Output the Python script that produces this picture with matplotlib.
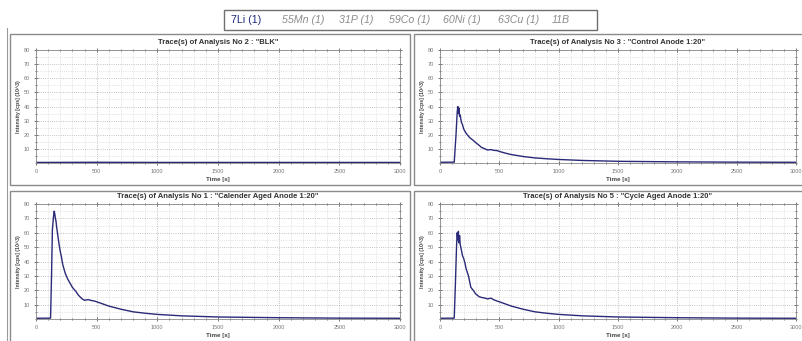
import matplotlib
matplotlib.use("Agg")
import matplotlib.pyplot as plt
from matplotlib.patches import Rectangle
from matplotlib.ticker import MultipleLocator

plt.rcParams['font.family'] = ['Liberation Sans', 'DejaVu Sans']

# time axis (s) and 7Li intensity (10^3 cps)
t_blk = [0, 500, 1000, 1500, 2000, 2500, 3000]
y_blk = [0.4, 0.5, 0.4, 0.4, 0.4, 0.4, 0.4]

t_ctrl = [0, 120, 135, 145, 150, 155, 160, 165, 170, 180, 190, 200, 220, 250, 280, 300, 330, 350,
          380, 400, 430, 450, 480, 500, 550, 600, 700, 800, 900, 1000, 1200, 1500, 2000, 2500, 3000]
y_ctrl = [0.5, 0.6, 20, 36, 40, 35, 39, 33, 34, 29, 27, 24, 21, 18, 16, 14.5, 12.5, 11,
          10, 9.2, 9.5, 9, 8.8, 8.2, 7, 6, 4.6, 3.6, 3, 2.5, 1.8, 1.2, 0.8, 0.6, 0.5]

t_cal = [0, 120, 128, 135, 145, 150, 155, 160, 165, 170, 180, 190, 200, 210, 220, 240, 260, 280,
         300, 330, 350, 380, 400, 430, 450, 480, 500, 550, 600, 700, 800, 900, 1000, 1200, 1500,
         2000, 2500, 3000]
y_cal = [0.5, 0.6, 30, 62, 72, 75, 73, 70, 68, 64, 58, 52, 47, 43, 38, 32, 28, 25,
         22, 19, 16.5, 14, 13, 13.5, 13, 12.5, 12, 10.5, 9, 6.8, 5, 4, 3.2, 2.2, 1.4,
         0.9, 0.6, 0.5]

t_cyc = [0, 120, 130, 140, 145, 150, 155, 160, 165, 170, 180, 190, 200, 210, 220, 240, 250, 260,
         280, 300, 330, 350, 380, 400, 430, 450, 480, 500, 550, 600, 700, 800, 900, 1000, 1200,
         1500, 2000, 2500, 3000]
y_cyc = [0.5, 0.6, 25, 52, 60, 55, 61, 53, 58, 52, 48, 44, 42, 39, 35, 30, 26, 22,
         20, 17.5, 15.5, 15, 14.5, 14, 14.5, 13.5, 12.5, 12, 10.5, 9, 6.8, 5, 4, 3.2, 2.2,
         1.4, 0.9, 0.6, 0.5]

titles = ['Trace(s) of Analysis No 2 : "BLK"',
          'Trace(s) of Analysis No 3 : "Control Anode 1:20"',
          'Trace(s) of Analysis No 1 : "Calender Aged Anode 1:20"',
          'Trace(s) of Analysis No 5 : "Cycle Aged Anode 1:20"']
series = [(t_blk, y_blk), (t_ctrl, y_ctrl), (t_cal, y_cal), (t_cyc, y_cyc)]

legend_items = ['7Li (1)', '55Mn (1)', '31P (1)', '59Co (1)', '60Ni (1)', '63Cu (1)', '11B']

W, H = 803, 341
fig = plt.figure(figsize=(W / 100, H / 100), dpi=100)


def fx(x):
    return x / W


def fy(y):
    return 1 - y / H


# panel frames
for (x0, y0, x1, y1) in [(10, 34, 410, 185), (414, 34, 806, 185), (10, 191, 410, 345), (414, 191, 806, 345)]:
    fig.patches.append(Rectangle((fx(x0), fy(y1)), fx(x1 - x0), (y1 - y0) / H,
                                 transform=fig.transFigure, fill=False, ec='#8a8a8a', lw=1.0))
fig.add_artist(plt.Line2D([fx(7), fx(7)], [fy(28), 0], transform=fig.transFigure, color='#9a9a9a', lw=0.8))

# channel selector box at the top
fig.patches.append(Rectangle((fx(224), fy(30)), fx(373), 20 / H, transform=fig.transFigure,
                             fill=False, ec='#707070', lw=1.0))
leg_x = [231, 282, 339, 389, 443, 498, 552]
for i, (lab, x) in enumerate(zip(legend_items, leg_x)):
    if i == 0:
        fig.text(fx(x), fy(20), lab, fontsize=7.7, color='#1c2a7a', va='center', ha='left')
    else:
        fig.text(fx(x), fy(20), lab, fontsize=7.7, color='#8c8c8c', style='italic', va='center', ha='left')

axes_pos = [(36, 50, 400, 163), (440, 50, 796, 163), (36, 204, 400, 319), (440, 204, 796, 319)]

for (x0, y0, x1, y1), title, (t, y) in zip(axes_pos, titles, series):
    ax = fig.add_axes([fx(x0), fy(y1), fx(x1 - x0), (y1 - y0) / H])
    ax.plot(t, y, color='#2a2a78', lw=1.0)
    ax.set_xlim(0, 3000)
    ax.set_ylim(0, 80)
    ax.xaxis.set_major_locator(MultipleLocator(500))
    ax.xaxis.set_minor_locator(MultipleLocator(100))
    ax.yaxis.set_minor_locator(MultipleLocator(5))
    ax.set_yticks([10, 20, 30, 40, 50, 60, 70, 80])
    ax.grid(which='major', color='#b0b0b0', ls=':', lw=0.6)
    ax.grid(which='minor', color='#cfcfcf', ls=':', lw=0.5)
    ax.tick_params(which='both', direction='inout', labelsize=4, colors='#444444',
                   labelcolor='#777777', top=True, right=True, length=2.5, width=0.5, pad=3)
    ax.tick_params(which='minor', length=1.5)
    for s in ax.spines.values():
        s.set_color('#888888')
        s.set_linewidth(0.6)
    ax.set_title(title, fontsize=5.5, fontweight='bold', color='#333333', pad=4)
    ax.set_xlabel('Time [s]', fontsize=4.5, fontweight='bold', color='#444444', labelpad=2)
    ax.set_ylabel('Intensity [cps] (10^3)', fontsize=3.8, fontweight='bold', color='#444444', labelpad=2)

fig.savefig('out.png', dpi=100, facecolor='white')
